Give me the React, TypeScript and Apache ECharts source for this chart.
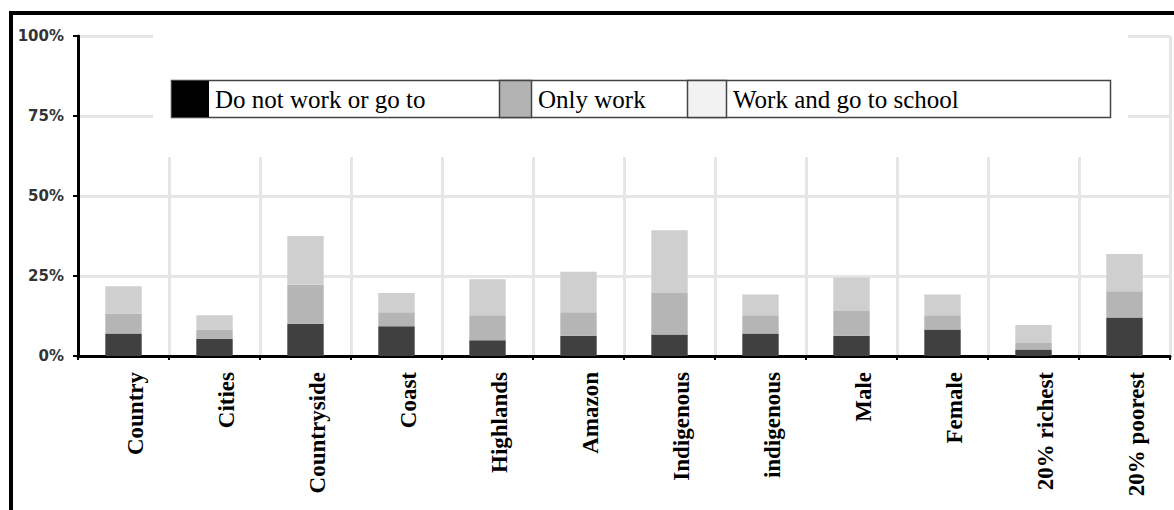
import React, { useEffect, useRef } from "react";
import * as echarts from "echarts";

const categories = [
  "Country", "Cities", "Countryside", "Coast", "Highlands", "Amazon",
  "Indigenous", "indigenous", "Male", "Female", "20% richest", "20% poorest",
];
const doNotWork = [7.0, 5.3, 10.1, 9.3, 4.9, 6.3, 6.7, 7.0, 6.3, 8.3, 2.0, 12.0];
const onlyWork = [6.3, 3.0, 12.2, 4.4, 7.8, 7.4, 13.0, 5.7, 7.8, 4.4, 2.1, 8.2];
const workAndSchool = [8.5, 4.4, 15.2, 6.0, 11.3, 12.6, 19.6, 6.5, 10.4, 6.5, 5.6, 11.7];
const legendNames = ["Do not work or go to", "Only work", "Work and go to school"];
const yTicks = { min: 0, max: 100, interval: 25 };

export default function App() {
  const ref = useRef<HTMLDivElement>(null);
  useEffect(() => {
    if (!ref.current) return;
    const chart = echarts.init(ref.current, null, { renderer: "svg" });
    const serif = "'Liberation Serif', 'Times New Roman', serif";
    const barCommon = { type: "bar", stack: "s", barWidth: "40%" };
    chart.setOption({
      animation: false,
      backgroundColor: "#ffffff",
      grid: { left: 78, right: 4, top: 36, bottom: 154 },
      xAxis: {
        type: "category",
        data: categories,
        boundaryGap: true,
        axisLine: { lineStyle: { color: "#000", width: 3 } },
        axisTick: { show: true, length: 4, lineStyle: { color: "#000", width: 2 } },
        splitLine: { show: true, lineStyle: { color: "#e6e6e6", width: 3 } },
        axisLabel: {
          rotate: 90,
          margin: 16,
          interval: 0,
          verticalAlign: "top",
          fontFamily: serif,
          fontWeight: "bold",
          fontSize: 23,
          color: "#000",
        },
      },
      yAxis: {
        type: "value",
        min: yTicks.min,
        max: yTicks.max,
        interval: yTicks.interval,
        axisLine: { show: true, lineStyle: { color: "#000", width: 3 } },
        axisTick: { show: true, length: 5, lineStyle: { color: "#000", width: 2 } },
        splitLine: { show: true, lineStyle: { color: "#e6e6e6", width: 3 } },
        axisLabel: {
          formatter: "{value}%",
          margin: 14,
          fontFamily: "'DejaVu Sans', sans-serif",
          fontWeight: "bold",
          fontSize: 15,
          color: "#333",
        },
      },
      series: [
        { ...barCommon, name: legendNames[0], data: doNotWork, itemStyle: { color: "#404040" } },
        { ...barCommon, name: legendNames[1], data: onlyWork, itemStyle: { color: "#b5b5b5" } },
        { ...barCommon, name: legendNames[2], data: workAndSchool, itemStyle: { color: "#cfcfcf" } },
      ],
      graphic: [
        { type: "rect", z: 10, shape: { x: 153, y: 30, width: 975, height: 127 }, style: { fill: "#fff" } },
        { type: "rect", z: 11, shape: { x: 171.5, y: 80.5, width: 939, height: 37 }, style: { fill: "#fff", stroke: "#444", lineWidth: 1.5 } },
        { type: "rect", z: 12, shape: { x: 172, y: 81, width: 37, height: 36 }, style: { fill: "#000" } },
        { type: "rect", z: 12, shape: { x: 499.5, y: 80.5, width: 32, height: 37 }, style: { fill: "#b3b3b3", stroke: "#444", lineWidth: 1.5 } },
        { type: "rect", z: 12, shape: { x: 687.5, y: 80.5, width: 39, height: 37 }, style: { fill: "#f2f2f2", stroke: "#444", lineWidth: 1.5 } },
        { type: "text", z: 12, x: 215, y: 99, style: { text: legendNames[0], fontFamily: serif, fontSize: 25, fill: "#000", verticalAlign: "middle" } },
        { type: "text", z: 12, x: 538, y: 99, style: { text: legendNames[1], fontFamily: serif, fontSize: 25, fill: "#000", verticalAlign: "middle" } },
        { type: "text", z: 12, x: 733, y: 99, style: { text: legendNames[2], fontFamily: serif, fontSize: 25, fill: "#000", verticalAlign: "middle" } },
        { type: "line", z: 12, shape: { x1: 10, y1: 13, x2: 1174, y2: 13 }, style: { stroke: "#000", lineWidth: 4 } },
        { type: "line", z: 12, shape: { x1: 11, y1: 11, x2: 11, y2: 510 }, style: { stroke: "#000", lineWidth: 4 } },
      ],
    });
    return () => chart.dispose();
  }, []);
  return (
    <div
      ref={ref}
      style={{ position: "fixed", left: 0, top: 0, width: 1174, height: 510 }}
    />
  );
}
